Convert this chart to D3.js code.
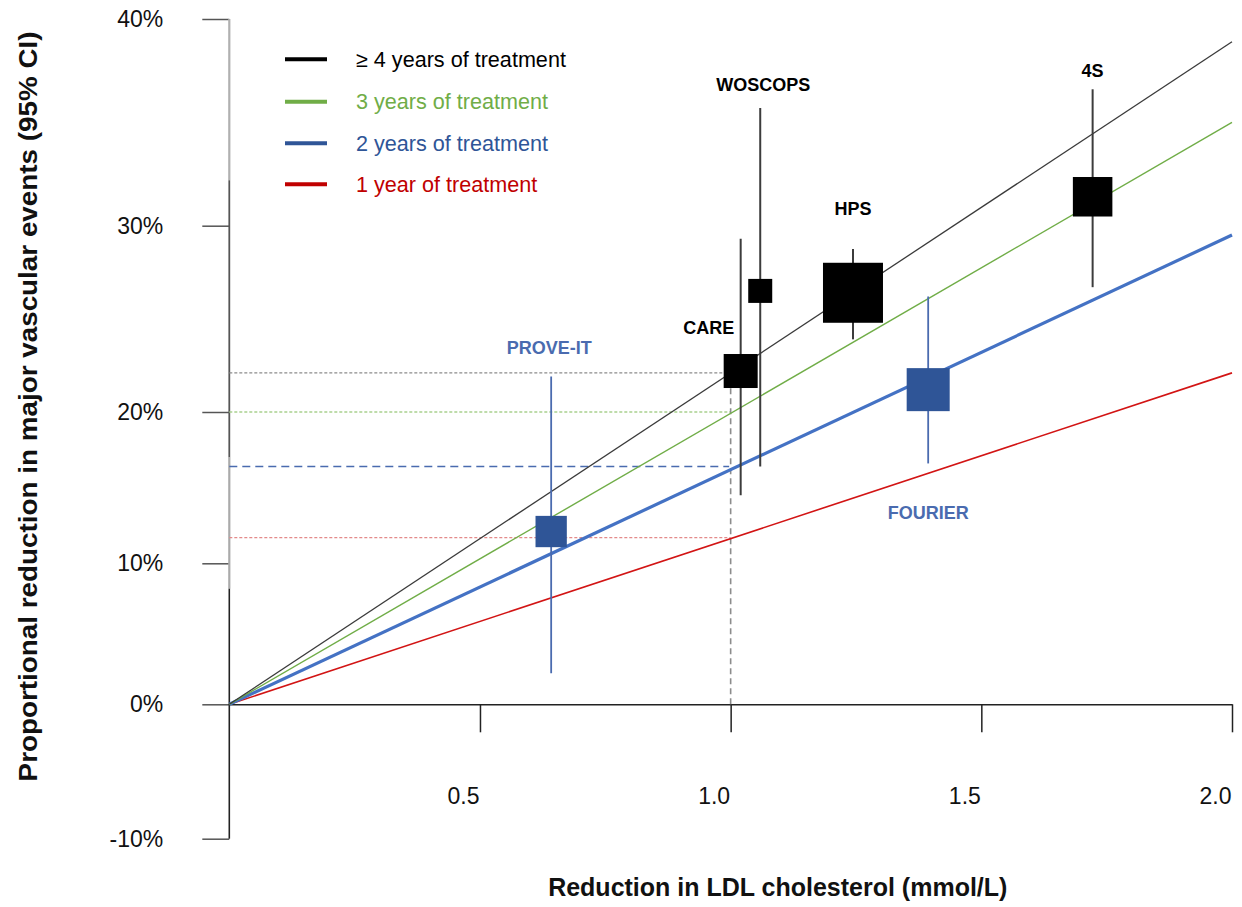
<!DOCTYPE html>
<html><head><meta charset="utf-8">
<script src="https://cdn.jsdelivr.net/npm/d3@7"></script>
<style>
body{margin:0;background:#fff}
svg{display:block}
text{font-family:"Liberation Sans",Arial,sans-serif}
</style>
</head><body>
<svg id="c" width="1242" height="907"></svg>
<script>
// ---------- DATA ----------
const xTicks = [0.5, 1.0, 1.5, 2.0];
const xTickLabels = ["0.5", "1.0", "1.5", "2.0"];
const yTicks = [-10, 0, 10, 20, 30, 40];
const yTickLabels = ["-10%", "0%", "10%", "20%", "30%", "40%"];

const seriesNames = ["\u2265 4 years of treatment", "3 years of treatment", "2 years of treatment", "1 year of treatment"];
const seriesAt1 = [22.1, 20.0, 16.4, 11.7];   // reduction at 1 mmol/L (reference guides)
const seriesAt2 = [38.9, 35.0, 29.5, 22.1];   // reduction at 2 mmol/L (line end)

const studies      = ["PROVE-IT", "CARE", "WOSCOPS", "HPS", "FOURIER", "4S"];
const studyLDL     = [0.642, 1.020, 1.059, 1.244, 1.394, 1.722];
const studyEffect  = [12.1, 22.2, 26.5, 26.4, 21.2, 31.4];
const studyLow     = [2.2, 14.5, 16.4, 23.9, 16.6, 26.7];
const studyHigh    = [21.9, 29.3, 35.7, 28.75, 26.2, 36.6];
const studyWeight  = [980, 1156, 576, 3600, 1850, 1560];
const studyGroup   = [2, 0, 0, 0, 2, 0];   // index into series (0 = >=4 years, 2 = 2 years)

// ---------- STYLE / LAYOUT ----------
const lineColors   = ["#3a3a3a", "#70AD47", "#4472C4", "#D21414"];
const lineWidths   = [1.3, 1.4, 3.2, 1.6];
const legendColors = ["#000000", "#70AD47", "#2F5597", "#C00000"];
const legendText   = ["#000000", "#70AD47", "#2F5597", "#C00000"];
const guideColors  = ["#8c8c8c", "#A9D18E", "#4A6BAF", "#E38A8A"];
const guideDash    = ["3,2", "3,2", "8,5", "3,2"];
const guideWidth   = [1.4, 1.4, 1.6, 1.4];
const boxColors    = {0: "#000000", 2: "#2F5597"};
const ciColors     = {0: "#3c3c3c", 2: "#4A6BAF"};
const labelColors  = {0: "#000000", 2: "#4A6BAF"};
const labelOffsets = [[-2,-23],[-32,-5],[3,-17],[0,-34],[0,56],[0,-12]]; // [dx, dy] from CI end
const labelAbove   = [true, null, true, true, false, true];

const svg = d3.select("#c");

const x = d3.scaleLinear().domain([0, 2]).range([229.3, 1232]);
const y = d3.scaleLinear().domain(yTicks).range([838.7, 704.3, 563.3, 412, 225.7, 19]);
const size = d3.scaleSqrt().domain([0, 3600]).range([0, 60]);

// ---------- AXES ----------
const yAxis = svg.append("g").attr("transform", `translate(${x(0)},0)`)
  .call(d3.axisLeft(y).tickValues(yTicks).tickFormat((d,i)=>yTickLabels[i]).tickSize(27).tickPadding(39));
yAxis.select(".domain").remove();
yAxis.selectAll(".tick line").attr("stroke", "#555").attr("stroke-width", 1.5);
yAxis.selectAll(".tick text").attr("font-size", 23).attr("fill", "#111").attr("font-family", "Liberation Sans, Arial, sans-serif");

// y axis spine with varying tones (as in the reference)
const spine = [[40, 32.2, "#b0b0b0", 2.2], [32.2, 17.0, "#555", 1.8], [17.0, 8.2, "#aaaaaa", 2.2], [8.2, -10, "#222", 1.6]];
spine.forEach(s => {
  svg.append("line").attr("x1", x(0)).attr("x2", x(0)).attr("y1", y(s[0])).attr("y2", y(s[1]))
    .attr("stroke", s[2]).attr("stroke-width", s[3]);
});

const xAxis = svg.append("g").attr("transform", `translate(0,${y(0)})`)
  .call(d3.axisBottom(x).tickValues(xTicks).tickFormat((d,i)=>xTickLabels[i]).tickSize(28).tickPadding(55).tickSizeOuter(0));
xAxis.select(".domain").attr("stroke", "#222").attr("stroke-width", 1.5);
xAxis.selectAll(".tick line").attr("stroke", "#222").attr("stroke-width", 1.5);
xAxis.selectAll(".tick text").attr("font-size", 23).attr("fill", "#111").attr("dx", -17)
  .attr("font-family", "Liberation Sans, Arial, sans-serif");

// axis titles
svg.append("text").attr("x", x(1.094)).attr("y", 896).attr("text-anchor", "middle")
  .attr("font-size", 25).attr("font-weight", "bold").attr("fill", "#111")
  .text("Reduction in LDL cholesterol (mmol/L)");
svg.append("text").attr("transform", `translate(37,${y(20.3)}) rotate(-90)`).attr("text-anchor", "middle")
  .attr("font-size", 26).attr("font-weight", "bold").attr("fill", "#111")
  .attr("textLength", 750).attr("lengthAdjust", "spacingAndGlyphs")
  .text("Proportional reduction in major vascular events (95% CI)");

// ---------- GUIDES at 1 mmol/L ----------
const guideEnd = [1.0 - 0.016, 1.0, 0.997, 1.0];
seriesAt1.forEach((v, i) => {
  svg.append("line").attr("x1", x(0)).attr("x2", x(guideEnd[i])).attr("y1", y(v)).attr("y2", y(v))
    .attr("stroke", guideColors[i]).attr("stroke-width", guideWidth[i]).attr("stroke-dasharray", guideDash[i]);
});
svg.append("line").attr("x1", x(1.0)).attr("x2", x(1.0)).attr("y1", y(0)).attr("y2", y(seriesAt1[0]))
  .attr("stroke", "#8c8c8c").attr("stroke-width", 1.6).attr("stroke-dasharray", "6,4");

// ---------- REGRESSION LINES ----------
const line = d3.line().x(d => x(d[0])).y(d => y(d[1]));
[3, 2, 1, 0].forEach(i => {
  svg.append("path").datum([[0, 0], [2, seriesAt2[i]]]).attr("d", line)
    .attr("fill", "none").attr("stroke", lineColors[i]).attr("stroke-width", lineWidths[i]);
});

// ---------- STUDIES ----------
studies.forEach((s, i) => {
  const g = studyGroup[i];
  svg.append("line").attr("x1", x(studyLDL[i])).attr("x2", x(studyLDL[i]))
    .attr("y1", y(studyHigh[i])).attr("y2", y(studyLow[i]))
    .attr("stroke", ciColors[g]).attr("stroke-width", g === 0 ? 2 : 1.8);
});
studies.forEach((s, i) => {
  const g = studyGroup[i];
  const w = size(studyWeight[i]);
  svg.append("rect").attr("x", x(studyLDL[i]) - w / 2).attr("y", y(studyEffect[i]) - w / 2)
    .attr("width", w).attr("height", w).attr("fill", boxColors[g]);
});
studies.forEach((s, i) => {
  const g = studyGroup[i];
  const o = labelOffsets[i];
  let yy;
  if (labelAbove[i] === true) yy = y(studyHigh[i]) + o[1];
  else if (labelAbove[i] === false) yy = y(studyLow[i]) + o[1];
  else yy = y(studyHigh[i]) + 95;
  svg.append("text").attr("x", x(studyLDL[i]) + o[0]).attr("y", yy)
    .attr("text-anchor", "middle").attr("font-size", 18).attr("font-weight", "bold")
    .attr("fill", labelColors[g]).text(s);
});

// ---------- LEGEND ----------
const legendY = [59.3, 101.7, 143.3, 184.3];
seriesNames.forEach((n, i) => {
  svg.append("line").attr("x1", 285).attr("x2", 327).attr("y1", legendY[i]).attr("y2", legendY[i])
    .attr("stroke", legendColors[i]).attr("stroke-width", 4);
  svg.append("text").attr("x", 356).attr("y", legendY[i]).attr("dy", "0.35em")
    .attr("font-size", 21.6).attr("fill", legendText[i]).text(n);
});
</script>
</body></html>
